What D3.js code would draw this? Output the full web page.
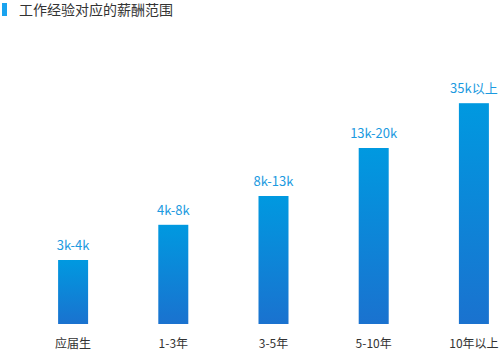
<!DOCTYPE html>
<html><head><meta charset="utf-8">
<script src="https://cdn.jsdelivr.net/npm/d3@7"></script>
<style>body{margin:0;background:#fff;}svg{display:block;font-family:"Microsoft YaHei","Noto Sans CJK SC",sans-serif;}</style>
</head><body><div id="c"></div>
<script>
const title = "工作经验对应的薪酬范围";
const categories = ["应届生","1-3年","3-5年","5-10年","10年以上"];
const values = [4, 6.2, 8, 11, 13.8];
const labels = ["3k-4k","4k-8k","8k-13k","13k-20k","35k以上"];

const W = 500, H = 351;
const svg = d3.select("#c").append("svg").attr("width", W).attr("height", H);
const defs = svg.append("defs");
const g = defs.append("linearGradient").attr("id","bg").attr("x1",0).attr("y1",0).attr("x2",0).attr("y2",1);
g.append("stop").attr("offset","0%").attr("stop-color","#0099e0");
g.append("stop").attr("offset","100%").attr("stop-color","#1a72cf");

svg.append("rect").attr("x",2).attr("y",3).attr("width",5).attr("height",13).attr("fill","#1aa3ef");
svg.append("text").attr("x",19).attr("y",15).attr("font-size",14).attr("fill","#333").text(title);

const x = d3.scaleBand().domain(categories).range([23, 524]).paddingInner(0.7).paddingOuter(0.35);
const y = d3.scaleLinear().domain([0, 16]).range([324, 68]);

const bw = 30;
svg.selectAll("rect.bar").data(values).enter().append("rect").attr("class","bar")
  .attr("x",(d,i)=>x(categories[i]) + x.bandwidth()/2 - bw/2)
  .attr("width",bw)
  .attr("y",d=>y(d)).attr("height",d=>y(0)-y(d))
  .attr("fill","url(#bg)");

svg.selectAll("text.lab").data(values).enter().append("text").attr("class","lab")
  .attr("x",(d,i)=>x(categories[i]) + x.bandwidth()/2)
  .attr("y",d=>y(d)-10)
  .attr("text-anchor","middle").attr("font-size",13).attr("fill","#1b9ae0")
  .text((d,i)=>labels[i]);

const ax = d3.axisBottom(x).tickSize(0).tickPadding(0);
const axg = svg.append("g").attr("transform","translate(0,337)").call(ax);
axg.select(".domain").remove();
axg.selectAll("text").attr("font-size",12).attr("fill","#333").attr("dy","0.9em")
  .attr("font-family",'"Microsoft YaHei","Noto Sans CJK SC",sans-serif');
</script></body></html>
